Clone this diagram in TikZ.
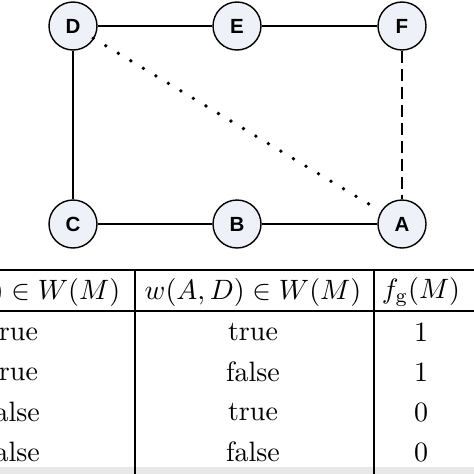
\documentclass[tikz,border=0pt]{standalone}
\usepackage{fontspec}
\newfontfamily\labfont{Liberation Sans}
\newcommand\vlab[1]{\scalebox{2.05}{\labfont\bfseries #1}}
\definecolor{nodefill}{RGB}{238,241,248}
\definecolor{stripgray}{RGB}{232,232,232}
\begin{document}
\begin{tikzpicture}[x=1pt,y=-1pt,
  vtx/.style={circle,draw=black,line width=1.4pt,fill=nodefill,minimum size=48pt,inner sep=0pt},
  edge/.style={line width=2.3pt},
  cell/.style={scale=2.8,inner sep=0pt,anchor=center},
  rule/.style={line width=1.1pt}]
\useasboundingbox (0,0) rectangle (474,474);
\clip (0,0) rectangle (474,474);
\fill[white] (0,0) rectangle (474,474);
% graph
\node[vtx] (D) at (73,26) {\vlab{D}};
\node[vtx] (E) at (237,26) {\vlab{E}};
\node[vtx] (F) at (402,26) {\vlab{F}};
\node[vtx] (C) at (73,224) {\vlab{C}};
\node[vtx] (B) at (237,224) {\vlab{B}};
\node[vtx] (A) at (402,224) {\vlab{A}};
\draw[edge] (D) -- (E);
\draw[edge] (E) -- (F);
\draw[edge] (D) -- (C);
\draw[edge] (C) -- (B);
\draw[edge] (B) -- (A);
\draw[edge,dash pattern=on 12pt off 6pt] (F) -- (A);
\draw[line width=3.8pt,line cap=round,dash pattern=on 0pt off 14.6pt,shorten <=-1pt] (D) -- (A);
% table
\fill[stripgray] (0,467) rectangle (474,474);
\draw[rule] (0,270) -- (474,270);
\draw[rule] (0,311) -- (474,311);
\draw[rule] (135,270) -- (135,474);
\draw[rule] (374,270) -- (374,474);
\node[cell] (h1) at (13,292) {$w(A,F)\in W(M)$};
\node[cell] (h2) at (253,292) {$w(A,D)\in W(M)$};
\node[cell] (h3) at (421,292) {$f_{\mathrm{g}}(M)$};
\node[cell] (r11) at (13,332) {true};
\node[cell] (r12) at (253,332) {true};
\node[cell] (r13) at (421,332) {1};
\node[cell] (r21) at (13,372) {true};
\node[cell] (r22) at (253,372) {false};
\node[cell] (r23) at (421,372) {1};
\node[cell] (r31) at (13,412) {false};
\node[cell] (r32) at (253,412) {true};
\node[cell] (r33) at (421,412) {0};
\node[cell] (r41) at (13,452) {false};
\node[cell] (r42) at (253,452) {false};
\node[cell] (r43) at (421,452) {0};
\end{tikzpicture}
\end{document}
